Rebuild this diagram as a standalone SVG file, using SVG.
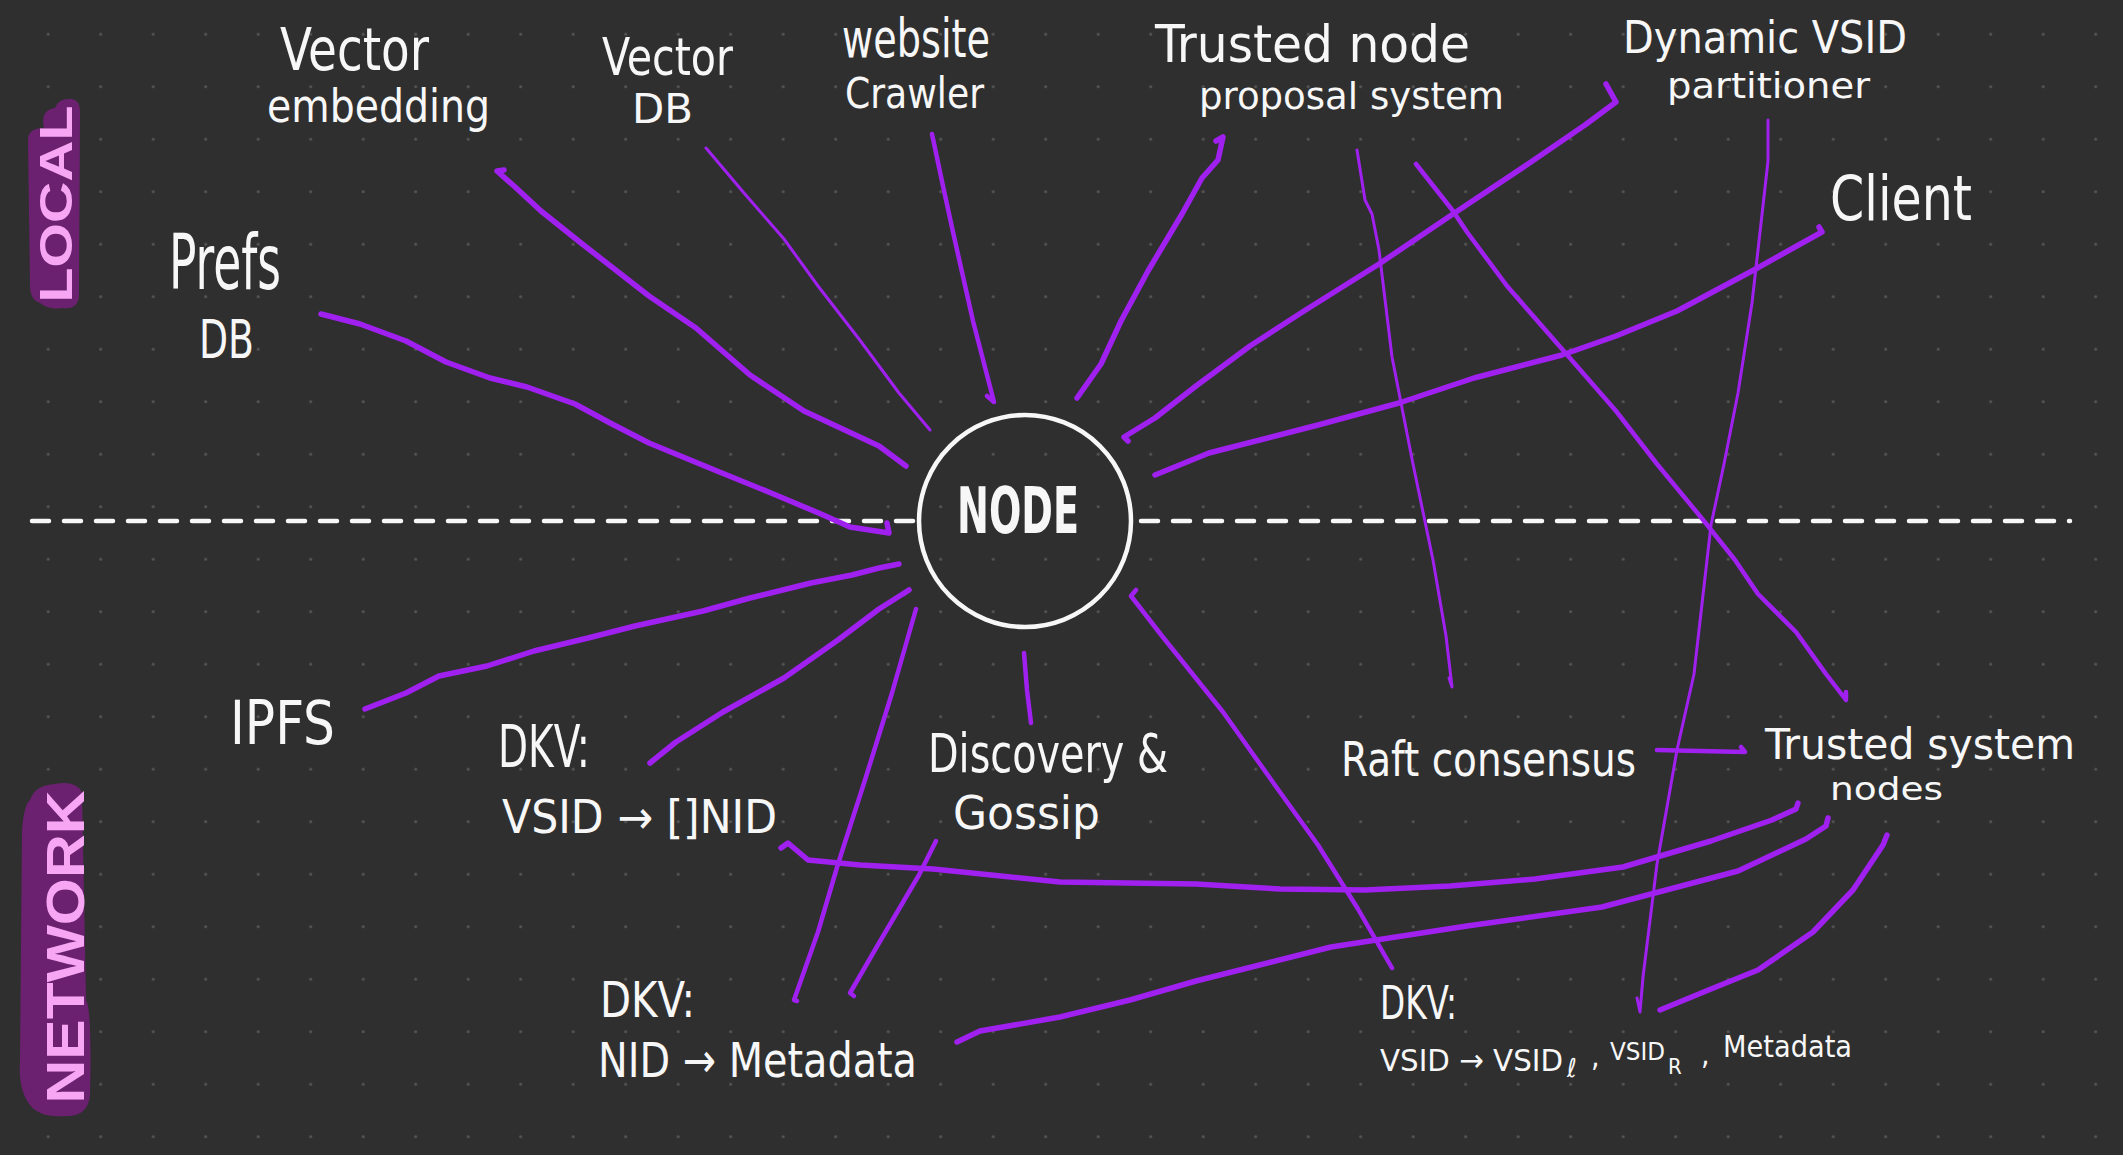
<svg xmlns="http://www.w3.org/2000/svg" width="2123" height="1155" viewBox="0 0 2123 1155">
<defs>
<pattern id="dots" x="21.95" y="7.95" width="52.5" height="52.5" patternUnits="userSpaceOnUse">
<circle cx="26.25" cy="26.25" r="1.5" fill="#565656"/>
</pattern>
<style>
.t{fill:#f7f7f7;font-family:"Liberation Sans Narrow","DejaVu Sans Condensed","Liberation Sans",sans-serif;}
.b{fill:#6b2170;}
.p{fill:#f6a6f2;font-family:"Liberation Sans","DejaVu Sans",sans-serif;font-weight:bold;}
.c{fill:none;stroke:#a020f0;stroke-linecap:round;stroke-linejoin:round;}
.k{stroke-width:5.5;}
.m{stroke-width:4.5;}
.n{stroke-width:3;}
</style>
</defs>
<rect width="2123" height="1155" fill="#2f2f2f"/>
<rect width="2123" height="1155" fill="url(#dots)"/>

<g id="divider">
<line x1="32" y1="521" x2="914" y2="521" stroke="#f7f7f7" stroke-width="4.5" stroke-dasharray="17 15" stroke-linecap="round"/>
<line x1="1141" y1="521" x2="2070" y2="521" stroke="#f7f7f7" stroke-width="4.5" stroke-dasharray="17 15" stroke-linecap="round"/>
</g>

<g id="label-local">
<path class="b" d="M44,128 Q40,110 55,108 Q58,98 72,99 Q80,100 80,112 L79,296 Q78,310 62,308 Q48,310 40,303 Q30,300 30,285 L28,140 Q28,128 44,128 Z"/>
<text class="p" transform="translate(72,204) rotate(-90)" x="0" y="0" text-anchor="middle" font-size="46" textLength="197" lengthAdjust="spacingAndGlyphs">LOCAL</text>
</g>

<g id="label-network">
<path class="b" d="M30,800 Q35,785 55,784 Q75,780 82,792 L86,1000 Q92,1010 90,1095 Q88,1117 65,1116 Q40,1118 30,1105 Q18,1090 20,1060 L22,830 Q24,805 30,800 Z"/>
<text class="p" transform="translate(84,947) rotate(-90)" x="0" y="0" text-anchor="middle" font-size="54" textLength="313" lengthAdjust="spacingAndGlyphs">NETWORK</text>
</g>

<g id="connectors">
<path class="c k" d="M321,314 L360,324 L406,341 L446,362 L490,378 L527,387 L575,404 L612,424 L649,443 L717,471 L771,493 L821,514 L850,527 L889,533 L887,523"/>
<path class="c k" d="M504,170 L497,171 L514,186 L541,211 L581,243 L649,296 L696,328 L750,375 L804,411 L879,446 L906,466"/>
<path class="c n" d="M706,148 L744,193 L784,239 L818,286 L859,339 L899,393 L930,430"/>
<path class="c m" d="M932,134 L943,186 L953,232 L973,321 L994,402 L987,396"/>
<path class="c k" d="M1216,141 L1223,137 L1218,160 L1202,178 L1182,214 L1148,271 L1121,321 L1101,364 L1077,398"/>
<path class="c k" d="M1606,84 L1616,102 L1585,125 L1528,164 L1453,214 L1379,264 L1304,311 L1250,346 L1196,386 L1155,418 L1124,437 L1128,441"/>
<path class="c k" d="M1819,227 L1822,232 L1752,271 L1677,311 L1616,336 L1562,355 L1474,378 L1399,403 L1318,425 L1209,453 L1155,475"/>
<path class="c n" d="M1357,150 L1365,200 L1372,214 L1379,250 L1392,357 L1413,464 L1433,560 L1446,636 L1452,687 L1449,678"/>
<path class="c m" d="M1416,164 L1453,211 L1467,232 L1507,286 L1569,357 L1616,411 L1657,464 L1704,521 L1735,560 L1758,594 L1796,632 L1826,674 L1846,700 L1846,692"/>
<path class="c n" d="M1768,120 L1768,161 L1758,250 L1752,303 L1738,393 L1724,464 L1711,525 L1707,560 L1694,674 L1677,750 L1657,864 L1643,977 L1640,1012 L1637,998"/>
<path class="c k" d="M365,709 L406,693 L439,676 L487,666 L534,651 L588,638 L635,626 L703,611 L750,598 L811,583 L852,575 L879,568 L899,564"/>
<path class="c k" d="M650,763 L676,742 L723,712 L784,678 L838,640 L879,609 L909,590 L903,594"/>
<path class="c m" d="M916,609 L892,693 L865,780 L838,864 L818,932 L794,1000 L797,1001"/>
<path class="c m" d="M1024,653 L1027,690 L1031,723"/>
<path class="c m" d="M936,841 L919,875 L879,943 L850,993 L854,996"/>
<path class="c k" d="M781,848 L788,843 L808,860 L860,865 L933,869 L1060,882 L1196,884 L1280,889 L1365,890 L1450,886 L1535,879 L1623,867 L1711,841 L1772,820 L1796,809 L1798,803"/>
<path class="c k" d="M957,1042 L980,1031 L1060,1017 L1130,1000 L1196,981 L1331,947 L1467,926 L1602,907 L1738,871 L1806,839 L1826,826 L1828,818"/>
<path class="c m" d="M1136,590 L1131,596 L1162,636 L1223,712 L1277,788 L1318,845 L1358,909 L1392,968"/>
<path class="c k" d="M1887,835 L1883,845 L1853,890 L1813,932 L1758,970 L1711,989 L1660,1010"/>
<path class="c m" d="M1657,750 L1700,751 L1745,752 L1741,747"/>
</g>

<g id="node-main">
<circle cx="1025" cy="521" r="106" fill="none" stroke="#f7f7f7" stroke-width="4.5"/>
<text class="t" x="957" y="533" font-size="64" font-weight="bold" textLength="122" lengthAdjust="spacingAndGlyphs">NODE</text>
</g>

<g id="node-vector-embedding">
<text class="t"><tspan x="280" y="70" font-size="58" textLength="149" lengthAdjust="spacingAndGlyphs">Vector</tspan><tspan x="267" y="122" font-size="46" textLength="223" lengthAdjust="spacingAndGlyphs">embedding</tspan></text>
</g>

<g id="node-vector-db">
<text class="t"><tspan x="602" y="75" font-size="52" textLength="131" lengthAdjust="spacingAndGlyphs">Vector</tspan><tspan x="632" y="123" font-size="40" textLength="61" lengthAdjust="spacingAndGlyphs">DB</tspan></text>
</g>

<g id="node-website-crawler">
<text class="t"><tspan x="842" y="57" font-size="54" textLength="148" lengthAdjust="spacingAndGlyphs">website</tspan><tspan x="845" y="108" font-size="42" textLength="139" lengthAdjust="spacingAndGlyphs">Crawler</tspan></text>
</g>

<g id="node-prefs-db">
<text class="t"><tspan x="169" y="289" font-size="76" textLength="112" lengthAdjust="spacingAndGlyphs">Prefs</tspan><tspan x="199" y="358" font-size="54" textLength="55" lengthAdjust="spacingAndGlyphs">DB</tspan></text>
</g>

<g id="node-trusted-node-proposal">
<text class="t"><tspan x="1155" y="62" font-size="52" textLength="315" lengthAdjust="spacingAndGlyphs">Trusted node</tspan><tspan x="1199" y="109" font-size="38" textLength="305" lengthAdjust="spacingAndGlyphs">proposal system</tspan></text>
</g>

<g id="node-dynamic-vsid">
<text class="t"><tspan x="1623" y="53" font-size="44" textLength="284" lengthAdjust="spacingAndGlyphs">Dynamic VSID</tspan><tspan x="1667" y="98" font-size="36" textLength="203" lengthAdjust="spacingAndGlyphs">partitioner</tspan></text>
</g>

<g id="node-client">
<text class="t" x="1830" y="220" font-size="62" textLength="142" lengthAdjust="spacingAndGlyphs">Client</text>
</g>

<g id="node-ipfs">
<text class="t" x="230" y="744" font-size="60" textLength="105" lengthAdjust="spacingAndGlyphs">IPFS</text>
</g>

<g id="node-dkv-vsid-nid">
<text class="t"><tspan x="498" y="767" font-size="58" textLength="92" lengthAdjust="spacingAndGlyphs">DKV:</tspan><tspan x="502" y="833" font-size="46" textLength="275" lengthAdjust="spacingAndGlyphs">VSID → []NID</tspan></text>
</g>

<g id="node-discovery-gossip">
<text class="t"><tspan x="928" y="772" font-size="53" textLength="240" lengthAdjust="spacingAndGlyphs">Discovery  &amp;</tspan><tspan x="953" y="829" font-size="46" textLength="147" lengthAdjust="spacingAndGlyphs">Gossip</tspan></text>
</g>

<g id="node-dkv-nid-metadata">
<text class="t"><tspan x="600" y="1017" font-size="50" textLength="95" lengthAdjust="spacingAndGlyphs">DKV:</tspan><tspan x="598" y="1077" font-size="48" textLength="319" lengthAdjust="spacingAndGlyphs">NID → Metadata</tspan></text>
</g>

<g id="node-raft">
<text class="t" x="1341" y="776" font-size="48" textLength="295" lengthAdjust="spacingAndGlyphs">Raft consensus</text>
</g>

<g id="node-trusted-system-nodes">
<text class="t"><tspan x="1765" y="759" font-size="42" textLength="310" lengthAdjust="spacingAndGlyphs">Trusted system</tspan><tspan x="1830" y="800" font-size="32" textLength="113" lengthAdjust="spacingAndGlyphs">nodes</tspan></text>
</g>

<g id="node-dkv-vsid-partition">
<text class="t"><tspan x="1380" y="1019" font-size="46" textLength="77" lengthAdjust="spacingAndGlyphs">DKV:</tspan><tspan x="1380" y="1071" font-size="31" textLength="183" lengthAdjust="spacingAndGlyphs">VSID → VSID</tspan><tspan x="1567" y="1077" font-size="26">ℓ</tspan><tspan x="1591" y="1066" font-size="30">,</tspan><tspan x="1610" y="1060" font-size="24" textLength="55" lengthAdjust="spacingAndGlyphs">VSID</tspan><tspan x="1668" y="1074" font-size="22">R</tspan><tspan x="1701" y="1064" font-size="30">,</tspan><tspan x="1723" y="1057" font-size="30" textLength="129" lengthAdjust="spacingAndGlyphs">Metadata</tspan></text>
</g>
</svg>
